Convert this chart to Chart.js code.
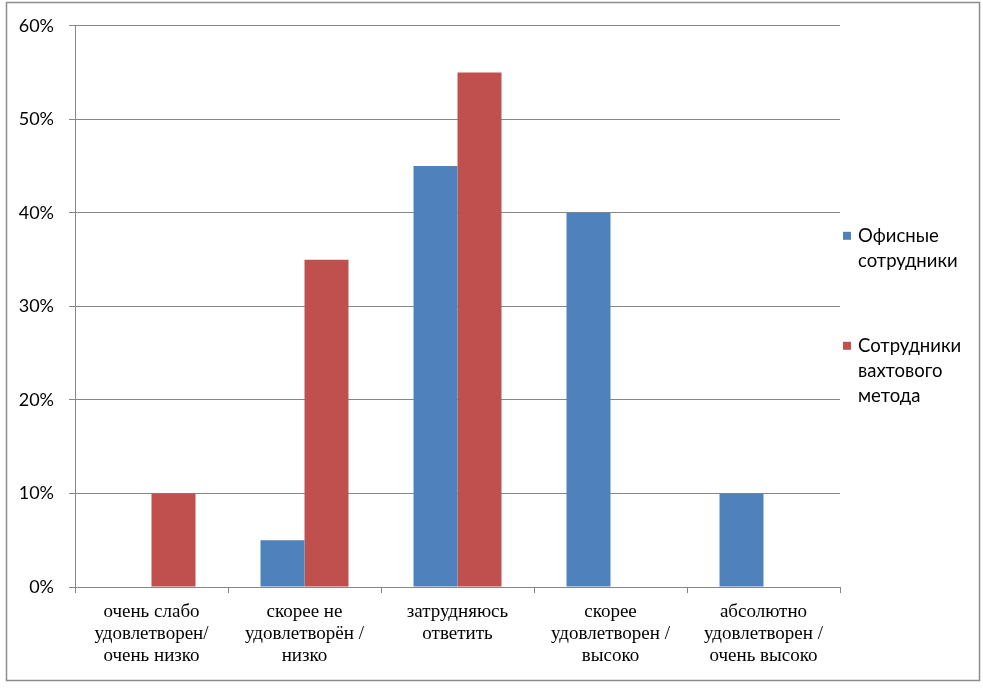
<!DOCTYPE html>
<html lang="ru">
<head>
<meta charset="utf-8">
<title>Удовлетворённость</title>
<script src="https://cdn.jsdelivr.net/npm/chart.js@4/dist/chart.umd.min.js"></script>
<style>
  html, body { margin: 0; padding: 0; background: #fff; }
  #wrap { width: 983px; height: 689px; }
</style>
</head>
<body>
<div id="wrap"><canvas id="satChart" width="983" height="689"></canvas></div>
<script>
// Категории (подписи оси X, по строкам)
const categories = [
  ['очень слабо', 'удовлетворен/', 'очень низко'],
  ['скорее не', 'удовлетворён /', 'низко'],
  ['затрудняюсь', 'ответить'],
  ['скорее', 'удовлетворен /', 'высоко'],
  ['абсолютно', 'удовлетворен /', 'очень высоко']
];

// Ряды данных, %
const officeValues = [0, 5, 45, 40, 10];
const shiftValues = [10, 35, 55, 0, 0];

// Подписи легенды (по строкам)
const seriesNames = [
  ['Офисные', 'сотрудники'],
  ['Сотрудники', 'вахтового', 'метода']
];
const seriesColors = ['#4F81BD', '#C0504D'];

// Шкала Y
const yMin = 0;
const yMax = 60;
const yStep = 10;

// Рамка вокруг всей диаграммы
const frame = {
  id: 'frame',
  beforeDraw(chart) {
    const ctx = chart.ctx;
    ctx.save();
    ctx.fillStyle = '#fff';
    ctx.fillRect(0, 0, chart.width, chart.height);
    ctx.strokeStyle = '#8c8c8c';
    ctx.lineWidth = 1.5;
    ctx.strokeRect(6.5, 2.5, 973, 678);
    ctx.restore();
  }
};

// Легенда справа, с переносом строк как в Excel
const sideLegend = {
  id: 'sideLegend',
  afterDraw(chart) {
    const { ctx, chartArea } = chart;
    const lineH = 25;
    const starts = [210, 320];
    ctx.save();
    ctx.font = '18.5px Lato, "Open Sans", sans-serif';
    ctx.textBaseline = 'middle';
    ctx.textAlign = 'left';
    chart.data.datasets.forEach((ds, i) => {
      const y0 = chartArea.top + starts[i];
      ctx.fillStyle = ds.backgroundColor;
      ctx.fillRect(chartArea.right + 3, y0 - 4, 8, 8);
      ctx.fillStyle = '#000';
      seriesNames[i].forEach((line, j) => {
        ctx.fillText(line, chartArea.right + 18, y0 + j * lineH);
      });
    });
    ctx.restore();
  }
};

const ctx = document.getElementById('satChart').getContext('2d');
const satChart = new Chart(ctx, {
  type: 'bar',
  data: {
    labels: categories,
    datasets: [{
      label: seriesNames[0].join(' '),
      data: officeValues,
      backgroundColor: seriesColors[0],
      categoryPercentage: 0.575,
      barPercentage: 1
    }, {
      label: seriesNames[1].join(' '),
      data: shiftValues,
      backgroundColor: seriesColors[1],
      categoryPercentage: 0.575,
      barPercentage: 1
    }]
  },
  options: {
    responsive: false,
    animation: false,
    layout: {
      padding: { left: 10, right: 143, top: 25, bottom: 22 }
    },
    plugins: {
      legend: { display: false },
      tooltip: { enabled: false }
    },
    scales: {
      x: {
        grid: {
          offset: true,
          drawOnChartArea: false,
          drawTicks: true,
          tickLength: 6,
          color: '#868686'
        },
        border: { color: '#868686' },
        ticks: {
          color: '#000',
          padding: 8,
          maxRotation: 0,
          autoSkip: false,
          font: { family: '"Liberation Serif", "Times New Roman", serif', size: 19, lineHeight: '22px' }
        },
        afterFit(scale) {
          scale.height = 80;
        }
      },
      y: {
        min: yMin,
        max: yMax,
        grid: {
          color: '#868686',
          tickLength: 6
        },
        border: { color: '#868686' },
        ticks: {
          stepSize: yStep,
          color: '#000',
          padding: 15,
          font: { family: 'Lato, "Open Sans", sans-serif', size: 18 },
          callback: function(value) {
            return value + '%';
          }
        },
        afterFit(scale) {
          scale.width = 65;
        }
      }
    }
  },
  plugins: [frame, sideLegend]
});
</script>
</body>
</html>
